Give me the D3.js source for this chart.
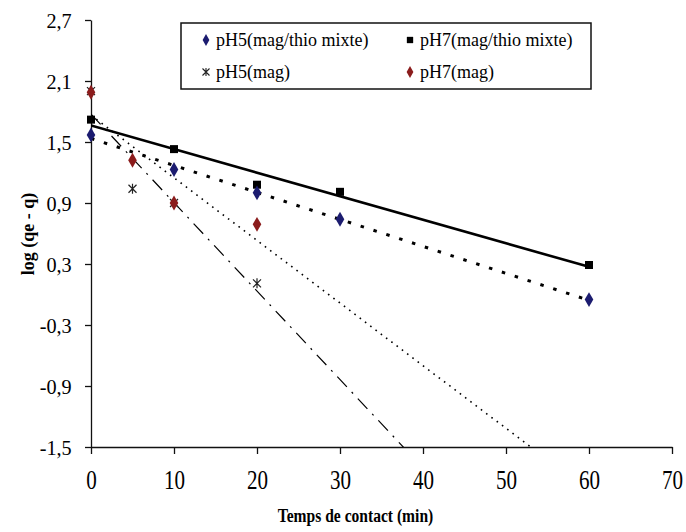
<!DOCTYPE html>
<html>
<head>
<meta charset="utf-8">
<script src="https://cdn.jsdelivr.net/npm/d3@7"></script>
<style type="text/css">
  body{
    background: white;
    margin: 0px;
  }
  svg text{
    font-family: "Liberation Serif", "Times New Roman", "DejaVu Serif", serif;
    fill: black;
  }
</style>
</head>
<body>
<svg id="chart" width="686" height="532"></svg>
<script>

// data
var tempsMixte = [0, 10, 20, 30, 60];
var pH5Mixte   = [1.57, 1.23, 1.00, 0.74, -0.05];
var pH7Mixte   = [1.72, 1.43, 1.08, 1.01, 0.29];

var tempsMag = [0, 5, 10, 20];
var pH5Mag   = [2.00, 1.04, 0.90, 0.11];
var pH7Mag   = [1.99, 1.32, 0.90, 0.69];

var xTicks = [0, 10, 20, 30, 40, 50, 60, 70];
var yTicks = [-1.5, -0.9, -0.3, 0.3, 0.9, 1.5, 2.1, 2.7];

var legendNames = ['pH5(mag/thio mixte)', 'pH7(mag/thio mixte)', 'pH5(mag)', 'pH7(mag)'];

var svg = d3.select('#chart');

var x = d3.scaleLinear().domain([0, 70]).range([91, 672]);
var y = d3.scaleLinear().domain([-1.5, 2.7]).range([447, 20]);

// comma decimals and a plain hyphen for the minus
var fmt = function(d) { return d.toFixed(1).replace('.', ','); };

// clip for the trendlines
svg.append('clipPath').attr('id', 'plotClip')
  .append('rect')
  .attr('x', x(0)).attr('y', y(2.7))
  .attr('width', x(70) - x(0)).attr('height', y(-1.5) - y(2.7));

// axes
var yAxis = svg.append('g')
  .attr('transform', 'translate(' + x(0) + ',0)')
  .call(d3.axisLeft(y).tickValues(yTicks).tickFormat(fmt).tickSize(6).tickPadding(15).tickSizeOuter(0));

yAxis.selectAll('text')
  .style('font-size', '22px')
  .attr('transform', 'scale(0.92,1)');

var xAxis = svg.append('g')
  .attr('transform', 'translate(0,' + y(-1.5) + ')')
  .call(d3.axisBottom(x).tickValues(xTicks).tickSize(7).tickPadding(16).tickSizeOuter(0));

xAxis.selectAll('text')
  .style('font-size', '27px')
  .attr('transform', 'scale(0.78,1)');

svg.selectAll('.domain, .tick line').attr('stroke', '#111').attr('stroke-width', 1.3);

// axis titles
svg.append('text')
  .attr('transform', 'translate(' + ((x(0) + x(70)) / 2 - 26) + ',522) scale(0.82,1)')
  .attr('text-anchor', 'middle')
  .style('font-size', '19px')
  .style('font-weight', 'bold')
  .text('Temps de contact (min)');

svg.append('text')
  .attr('transform', 'translate(34,234) rotate(-90)')
  .attr('text-anchor', 'middle')
  .style('font-size', '18px')
  .style('font-weight', 'bold')
  .text('log (qe - q)');

// least squares trendline, like the spreadsheet does
function fit(xs, ys) {
  var mx = d3.mean(xs), my = d3.mean(ys);
  var sxy = d3.sum(xs, function(v, i) { return (v - mx) * (ys[i] - my); });
  var sxx = d3.sum(xs, function(v) { return (v - mx) * (v - mx); });
  var b = sxy / sxx;
  return { a: my - b * mx, b: b };
}

function trend(xs, ys, x1, style) {
  var f = fit(xs, ys);
  var pts = [[0, f.a], [x1, f.a + f.b * x1]];
  svg.append('path')
    .attr('clip-path', 'url(#plotClip)')
    .attr('d', d3.line().x(function(d) { return x(d[0]); }).y(function(d) { return y(d[1]); })(pts))
    .attr('fill', 'none')
    .attr('stroke', '#000')
    .attr('stroke-width', style.w)
    .attr('stroke-dasharray', style.dash);
}

trend(tempsMixte, pH7Mixte, 60, { w: 2.6, dash: null });
trend(tempsMixte, pH5Mixte, 60, { w: 3, dash: '3.5,10' });
trend(tempsMag, pH7Mag, 70, { w: 1.6, dash: '1.6,5' });
trend(tempsMag, pH5Mag, 70, { w: 1.2, dash: '14,7,2,7' });

// markers
var diamond = d3.symbol().type(d3.symbolDiamond).size(64);
var square = d3.symbol().type(d3.symbolSquare).size(64);
var star = 'M0,-5V5M-4,-4L4,4M4,-4L-4,4';

function markers(xs, ys, cls, draw) {
  svg.selectAll('.' + cls)
    .data(xs)
    .enter()
    .append('path')
    .attr('class', cls)
    .attr('transform', function(d, i) { return 'translate(' + x(d) + ',' + y(ys[i]) + ')'; })
    .call(draw);
}

markers(tempsMag, pH5Mag, 'm-pH5mag', function(s) {
  s.attr('d', star).attr('fill', 'none').attr('stroke', '#222').attr('stroke-width', 1.2);
});
markers(tempsMag, pH7Mag, 'm-pH7mag', function(s) {
  s.attr('d', diamond()).attr('fill', '#8b1c1c');
});
markers(tempsMixte, pH7Mixte, 'm-pH7mixte', function(s) {
  s.attr('d', square()).attr('fill', '#000');
});
markers(tempsMixte, pH5Mixte, 'm-pH5mixte', function(s) {
  s.attr('d', diamond()).attr('fill', '#1c1c70');
});

// legend
var legend = svg.append('g');

legend.append('rect')
  .attr('x', 181).attr('y', 23)
  .attr('width', 410).attr('height', 66)
  .attr('fill', 'white')
  .attr('stroke', '#111')
  .attr('stroke-width', 1.5);

var legendSymbols = [
  function(g) { g.append('path').attr('d', d3.symbol().type(d3.symbolDiamond).size(40)()).attr('fill', '#1c1c70'); },
  function(g) { g.append('path').attr('d', d3.symbol().type(d3.symbolSquare).size(40)()).attr('fill', '#000'); },
  function(g) { g.append('path').attr('d', 'M0,-4V4M-3.5,-3.5L3.5,3.5M3.5,-3.5L-3.5,3.5').attr('fill', 'none').attr('stroke', '#222').attr('stroke-width', 1.1); },
  function(g) { g.append('path').attr('d', d3.symbol().type(d3.symbolDiamond).size(40)()).attr('fill', '#8b1c1c'); }
];

legendNames.forEach(function(name, i) {
  var col = i % 2, row = Math.floor(i / 2);
  var g = legend.append('g')
    .attr('transform', 'translate(' + (col === 0 ? 206 : 410) + ',' + (40 + row * 32) + ')');
  legendSymbols[i](g);
  g.append('text')
    .attr('x', 10)
    .attr('dy', '0.35em')
    .style('font-size', '18px')
    .text(name);
});

</script>
</body>
</html>
